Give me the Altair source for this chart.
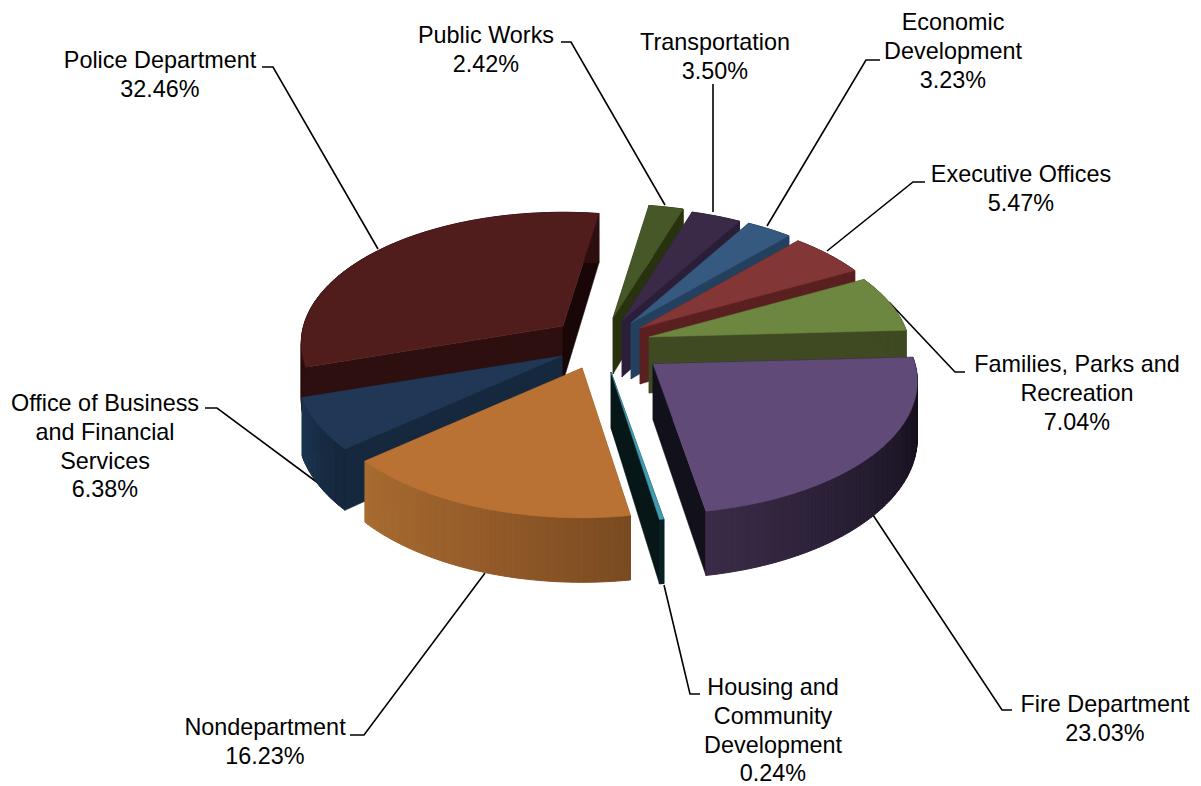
import math
import altair as alt

# Budget shares, clockwise from the first slice angle
departments = ["Public Works", "Transportation", "Economic Development", "Executive Offices",
               "Families, Parks and Recreation", "Fire Department",
               "Housing and Community Development", "Nondepartment",
               "Office of Business and Financial Services", "Police Department"]
shares = [2.42, 3.50, 3.23, 5.47, 7.04, 23.03, 0.24, 16.23, 6.38, 32.46]

label_text = ["Public Works\n2.42%", "Transportation\n3.50%", "Economic\nDevelopment\n3.23%",
              "Executive Offices\n5.47%", "Families, Parks and\nRecreation\n7.04%",
              "Fire Department\n23.03%", "Housing and\nCommunity\nDevelopment\n0.24%",
              "Nondepartment\n16.23%", "Office of Business\nand Financial\nServices\n6.38%",
              "Police Department\n32.46%"]
label_x = [486, 715, 953, 1021, 1077, 1105, 773, 265, 105, 160]
label_y = [36, 43, 23, 175, 365, 705, 688, 728, 404, 61]

# Leader line vertices for each label
leaders = [[(561, 42), (571, 42), (665, 205)], [(713, 84), (713, 212)],
           [(880, 60), (866, 60), (767, 226)], [(925, 182), (913, 182), (827, 251)],
           [(965, 372), (955, 372), (889, 302)], [(1012, 710), (1002, 710), (873, 515)],
           [(700, 694), (690, 694), (664, 585)], [(350, 735), (364, 735), (485, 573)],
           [(205, 408), (217, 408), (322, 486)], [(262, 67), (273, 67), (378, 249)]]

# Exploded apex of every slice and the size of its rim relative to the others
apex = [(613, 318), (622, 321), (631, 323), (640, 328), (649, 337),
        (653, 364), (611, 372), (582, 368), (562, 356), (563, 326)]
rim_scale = [0.99, 0.99, 0.99, 0.99, 0.99, 1, 1, 1, 1, 0.99]

top_colors = ["#465828", "#3a2a48", "#35597f", "#823636", "#6e8740",
              "#5f4a78", "#3f9bb0", "#b97233", "#203856", "#501c1c"]
start_wall = ["#28320f", "#2a1e38", "#24405f", "#5a2020", "#3f4a22",
              "#12101a", "#071718", "#7a4a20", "#16283d", "#2e0f0f"]
end_wall = ["#28320f", "#2a1e38", "#24405f", "#5a2020", "#3f4a22",
            "#12101a", "#071718", "#7a4a20", "#16283d", "#190606"]
rim_stops = [["#28320f"], ["#2a1e38"], ["#24405f"], ["#5a2020"], ["#3f4a22"],
             ["#0e0a14", "#231a2e", "#3a2c48"], ["#0a2024"],
             ["#7a4a20", "#955c2a", "#a86c30"], ["#14263a", "#1c3552"], ["#2e0f0f"]]

# Back-to-front painting order
paint_order = [0, 1, 2, 3, 4, 9, 8, 7, 6, 5]

FIRST_ANGLE = 9.0
RX, RY, PERSPECTIVE, DEPTH = 262, 130, 0.132, 56


def ground(theta, size):
    """Offset from a slice apex to its rim at a clockwise angle, with the depth scale there."""
    rad = math.radians(theta)
    u, v = math.sin(rad), -math.cos(rad)
    w = 1 / (1 - PERSPECTIVE * v)
    return RX * size * u * w, RY * size * v * w, w


def polygon(points, fill, edge=0.5):
    ring = [list(p) for p in points] + [list(points[0])]
    return {"type": "Feature", "properties": {"fill": fill, "edge": edge},
            "geometry": {"type": "Polygon", "coordinates": [ring]}}


def blend(stops, t):
    if len(stops) == 1:
        return stops[0]
    pos = t * (len(stops) - 1)
    i = min(int(pos), len(stops) - 2)
    f = pos - i
    a = [int(stops[i][k:k + 2], 16) for k in (1, 3, 5)]
    b = [int(stops[i + 1][k:k + 2], 16) for k in (1, 3, 5)]
    return "#%02x%02x%02x" % tuple(round(x + (y - x) * f) for x, y in zip(a, b))


starts, running = [], FIRST_ANGLE
for share in shares:
    starts.append(running)
    running += share * 3.6

features = []
for i in paint_order:
    cx, cy = apex[i]
    a0, a1 = starts[i], starts[i] + shares[i] * 3.6
    steps = max(2, int((a1 - a0) / 1.0))
    angles = [a0 + (a1 - a0) * s / steps for s in range(steps + 1)]
    rim = [ground(a, rim_scale[i]) for a in angles]
    top = [(cx + x, cy + y) for x, y, _ in rim]
    low = [(cx + x, cy + y + DEPTH * w) for x, y, w in rim]
    floor = (cx, cy + DEPTH)
    features.append(polygon([(cx, cy), top[0], low[0], floor], start_wall[i]))
    features.append(polygon([(cx, cy), top[-1], low[-1], floor], end_wall[i]))
    # Overlapping strips shade the rim from one end of the slice to the other
    for s in range(steps):
        features.append(polygon([top[s], top[s + 1], low[s + 1], low[s]],
                                blend(rim_stops[i], (s + 0.5) / steps), 1.0))
    features.append(polygon([(cx, cy)] + top, top_colors[i]))

line_features = [{"type": "Feature", "properties": {"name": d},
                  "geometry": {"type": "LineString", "coordinates": [list(p) for p in pts]}}
                 for d, pts in zip(departments, leaders)]

plane = dict(type="identity", scale=1, translate=[0, 0])

slices = alt.Chart(alt.Data(values=features)).mark_geoshape().encode(
    color=alt.Color("properties.fill:N", scale=None),
    stroke=alt.Stroke("properties.fill:N", scale=None),
    strokeWidth=alt.StrokeWidth("properties.edge:Q", scale=None),
).project(**plane)

lines = alt.Chart(alt.Data(values=line_features)).mark_geoshape(
    filled=False, stroke="black", strokeWidth=1.6
).project(**plane)

labels = alt.Chart(alt.Data(values=[
    {"label": t, "px": x, "py": y} for t, x, y in zip(label_text, label_x, label_y)
])).mark_text(font="Liberation Sans", fontSize=23.4, lineHeight=28.8, lineBreak="\n",
              align="center", baseline="middle", color="black").encode(
    longitude="px:Q", latitude="py:Q", text="label:N"
).project(**plane)

chart = alt.layer(lines, slices, labels).properties(
    width=1201, height=786, padding=0, background="white",
    autosize=alt.AutoSizeParams(type="none"),
).configure_view(stroke=None)

chart.save("out.html", embed_options={"renderer": "svg", "actions": False})
